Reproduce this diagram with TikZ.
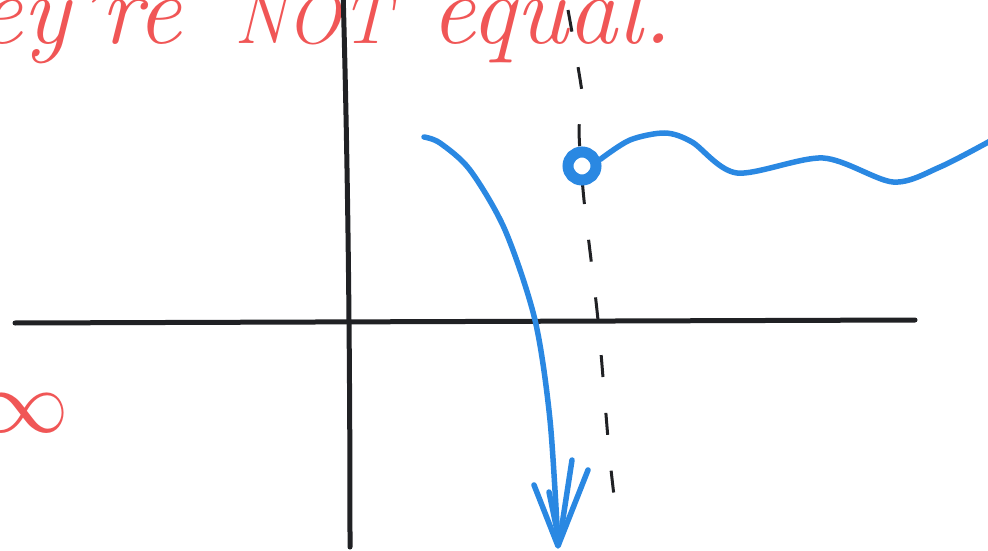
\documentclass[tikz,border=0pt]{standalone}
\usepackage{tikz}
\definecolor{SketchRed}{HTML}{F05656}
\definecolor{SketchBlue}{HTML}{2A88E2}
\definecolor{SketchInk}{HTML}{202124}

\begin{document}
\begin{tikzpicture}[x=1pt,y=1pt,
    ink/.style={SketchInk,line width=5pt,line cap=round,line join=round},
    pen/.style={SketchBlue,line width=5.5pt,line cap=round,line join=round},
    scrawl/.style={SketchRed,inner sep=0pt,font=\fontsize{100}{100}\selectfont\itshape},
    hole/.style={circle,draw=SketchBlue,line width=11pt,minimum size=28pt,inner sep=0pt}]
  \clip (0,0) rectangle (988,550);
  % red note, cut off at the top
  \node[scrawl,anchor=base east] (they) at (182,506) {they're};
  \node[scrawl,anchor=base west,font=\fontsize{72}{72}\selectfont\itshape] (not) at (234,506) {NOT};
  \node[scrawl,anchor=base west] (equal) at (430,506) {equal.};
  \node[scrawl,scale=3.6] (infty) at (24,137) {$\infty$};
  % axes
  \draw[ink] (15,227) -- (915,230);
  \draw[ink] (343,560) .. controls (348,380) and (350,200) .. (350,3);
  \draw[SketchInk,line width=3pt,dash pattern=on 22pt off 36pt]
    plot[smooth] coordinates {(568,540) (583,450) (579,420) (584,350) (598,230) (609,100) (616,38)};
  % branch going down
  \draw[pen] plot[smooth] coordinates {(424,413) (440,407) (470,380) (505,320) (535,230) (550,130) (558,6)};
  \draw[pen] (534,65) -- (558,4) -- (588,80);
  \draw[pen] (549,58) -- (559,10) (572,90) -- (560,12);
  % open end and wavy branch
  \node[hole] (end) at (582,384) {};
  \draw[pen] plot[smooth] coordinates {(end.20) (630,410) (665,417) (692,408) (737,377) (823,392) (893,368) (940,383) (992,410)};
\end{tikzpicture}
\end{document}
